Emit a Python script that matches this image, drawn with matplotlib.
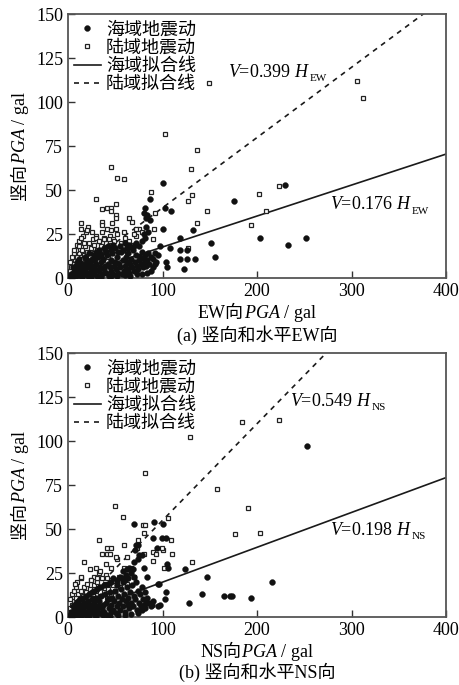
import numpy as np
import matplotlib
matplotlib.use('Agg')
import matplotlib.pyplot as plt
from matplotlib.transforms import IdentityTransform

plt.rcParams['font.family'] = ['Liberation Serif', 'Noto Sans CJK SC']
plt.rcParams['font.size'] = 13
plt.rcParams['mathtext.fontset'] = 'custom'
plt.rcParams['mathtext.rm'] = 'Liberation Serif'
plt.rcParams['mathtext.it'] = 'Liberation Serif:italic'
plt.rcParams['mathtext.bf'] = 'Liberation Serif:bold'

# ---- data: (horizontal PGA, vertical PGA) in gal ----
ew_sea = [
    (2, 1), (3, 2), (4, 1.5), (5, 3), (6, 2), (7, 4), (8, 1), (9, 3), (10, 5), (11, 2), (12, 6), (13, 3),
    (14, 1), (15, 4), (16, 7), (17, 2), (18, 5), (19, 8), (20, 3), (21, 1), (22, 6), (23, 9), (24, 4),
    (25, 2), (26, 7), (27, 10), (28, 3), (29, 5), (30, 8), (31, 1), (32, 12), (33, 4), (34, 6), (35, 9),
    (36, 2), (37, 11), (38, 5), (39, 7), (40, 3), (41, 13), (42, 8), (43, 1), (44, 6), (45, 10), (46, 4),
    (47, 14), (48, 2), (49, 7), (50, 9), (51, 5), (52, 12), (53, 3), (54, 8), (55, 6), (56, 15), (57, 2),
    (58, 10), (59, 4), (60, 7), (61, 12), (62, 9), (63, 5), (64, 14), (65, 3), (66, 8), (67, 11), (68, 6),
    (69, 16), (70, 4), (71, 9), (72, 13), (73, 7), (74, 5), (75, 10), (76, 12), (77, 8), (78, 15), (79, 6),
    (80, 11), (81, 9), (82, 13), (83, 7), (84, 10), (85, 14), (86, 8), (88, 12), (90, 11), (93, 9), (95, 13),
    (5, 6), (8, 7), (10, 9), (12, 11), (14, 8), (18, 12), (20, 10), (22, 14), (25, 11), (28, 13), (30, 15),
    (33, 16), (35, 13), (38, 17), (40, 15), (42, 18), (45, 16), (48, 19), (50, 17), (53, 15), (55, 18),
    (58, 16), (60, 20), (62, 17), (65, 19), (68, 17), (70, 18), (72, 20), (75, 18), (78, 21), (82, 23),
    (85, 26), (80, 25), (83, 29), (87, 33),
    (4, 0.5), (7, 0.5), (15, 0.8), (24, 0.7), (35, 0.6), (46, 0.9), (52, 1), (60, 1.5), (66, 1), (73, 2),
    (78, 2.5), (84, 3), (88, 4), (90, 6), (92, 8),
    (101, 54), (87, 45), (81, 40), (84, 36), (83, 34), (80, 37), (103, 40), (109, 38), (101, 28), (119, 23),
    (132, 27), (151, 20), (156, 12), (108, 17), (118, 16), (126, 16), (118, 11), (126, 11), (134, 11),
    (123, 5), (105, 6), (92, 14), (97, 18), (104, 9), (176, 44), (230, 53), (203, 23), (233, 19), (252, 23),
]
ew_land = [
    (2, 4), (3, 6), (5, 8), (6, 5), (7, 10), (8, 7), (9, 12), (11, 9), (12, 14),
    (13, 6), (14, 11), (15, 16), (16, 8), (17, 13), (18, 18), (19, 10), (20, 15), (22, 20), (23, 12),
    (24, 17), (25, 9), (26, 22), (27, 14), (28, 19), (29, 11), (30, 24), (31, 16), (33, 21), (34, 13),
    (35, 18), (36, 26), (37, 10), (38, 23), (39, 15), (40, 20), (41, 28), (42, 12), (43, 17), (44, 24),
    (46, 19), (47, 14), (48, 22), (50, 16), (52, 25), (56, 20), (58, 18), (60, 23),
    (62, 15), (65, 21), (68, 19), (72, 24), (75, 28), (78, 26),
    (3, 1), (9, 2), (21, 4), (30, 3),
    (2, 9), (4, 12), (6, 14), (8, 16), (10, 19), (12, 21), (16, 24), (19, 26), (14, 28), (21, 29),
    (46, 63), (52, 57), (59, 56), (30, 45), (14, 31), (36, 39), (41, 40), (46, 40), (51, 42), (46, 38),
    (51, 36), (36, 32), (36, 30), (47, 31), (51, 28), (46, 27), (51, 34), (65, 34), (68, 32), (72, 28),
    (70, 25), (59, 26), (20, 27), (25, 26), (30, 23), (33, 21), (38, 22), (43, 22), (49, 21), (14, 23),
    (17, 20), (12, 18), (6, 16),
    (88, 49), (92, 37), (91, 28), (90, 22), (127, 44), (131, 47), (147, 38), (136, 31), (127, 17), (130, 62),
    (136, 73), (103, 82), (149, 111), (306, 112), (312, 102), (202, 48), (223, 52), (209, 38), (194, 30),
]
ns_sea = [
    (2, 1), (3, 3), (4, 1), (5, 2), (6, 4), (7, 1.5), (8, 3), (9, 5), (10, 2), (11, 6), (12, 1), (13, 4),
    (14, 7), (15, 2), (16, 5), (17, 8), (18, 3), (19, 1), (20, 6), (21, 9), (22, 4), (23, 2), (24, 7),
    (25, 10), (26, 3), (27, 5), (28, 8), (29, 1), (30, 11), (31, 4), (32, 6), (33, 9), (34, 2), (35, 12),
    (36, 5), (37, 7), (38, 3), (39, 13), (40, 8), (41, 1), (42, 10), (43, 5), (44, 14), (45, 3), (46, 7),
    (47, 11), (48, 4), (49, 9), (50, 15), (51, 2), (52, 6), (53, 12), (54, 8), (55, 4), (56, 16), (57, 10),
    (58, 6), (59, 13), (60, 3), (61, 9), (62, 17), (63, 7), (64, 11), (65, 5), (66, 14), (67, 8), (68, 18),
    (69, 6), (70, 12), (71, 10), (72, 20), (73, 4), (74, 15), (75, 8), (76, 13), (77, 6), (78, 17), (79, 10),
    (80, 7), (81, 14), (82, 5), (84, 11), (86, 8), (88, 6), (90, 9),
    (5, 6), (8, 8), (11, 9), (13, 10), (16, 11), (19, 12), (22, 13), (25, 14), (28, 15), (31, 16), (34, 17),
    (38, 18), (42, 19), (45, 20), (48, 22), (52, 21), (55, 23), (58, 20), (61, 24), (64, 22), (67, 25),
    (70, 23), (65, 28), (62, 27), (58, 26),
    (4, 0.5), (9, 0.7), (14, 0.5), (22, 0.8), (30, 0.6), (37, 1), (44, 0.8), (53, 1.2), (60, 1), (67, 1.5), (74, 2),
    (70, 53), (100, 53), (91, 54), (90, 45), (99, 45), (104, 45), (94, 39), (74, 41), (72, 41), (71, 38),
    (74, 33), (75, 35), (78, 35), (70, 31), (69, 27), (80, 28), (106, 28), (105, 30), (96, 19), (84, 23),
    (95, 19), (57, 22), (60, 21), (52, 18), (124, 27), (147, 23), (142, 13), (128, 8), (165, 12), (171, 12),
    (104, 14), (103, 10), (89, 7), (95, 6), (97, 7), (78, 4), (83, 8), (174, 12), (194, 11), (216, 20), (253, 97),
]
ns_land = [
    (2, 5), (4, 7), (6, 9), (7, 6), (8, 11), (10, 8), (11, 13), (12, 5),
    (13, 10), (14, 15), (15, 7), (16, 12), (17, 17), (18, 9), (19, 14), (20, 19), (22, 11), (23, 16),
    (24, 21), (25, 8), (26, 13), (27, 18), (28, 23), (29, 10), (30, 15), (31, 20), (33, 25), (34, 12),
    (35, 17), (36, 22), (38, 14), (39, 19), (40, 24), (41, 11), (42, 16), (44, 21), (46, 13),
    (48, 18), (50, 15), (52, 20), (55, 17), (58, 22), (62, 19),
    (3, 1), (9, 2), (20, 3), (29, 4),
    (2, 10), (4, 13), (6, 15), (8, 17), (10, 20), (14, 22), (7, 19),
    (50, 63), (58, 57), (33, 44), (41, 39), (46, 39), (41, 36), (36, 36), (59, 41), (52, 33), (62, 34),
    (17, 31), (23, 27), (30, 28), (34, 26), (40, 30), (46, 28), (51, 34), (14, 23), (24, 21), (31, 22),
    (41, 22), (54, 23), (59, 28), (67, 28), (70, 23), (44, 36),
    (79, 52), (80, 48), (74, 44), (73, 39), (80, 36), (90, 37), (90, 32), (93, 36), (100, 38), (99, 39),
    (109, 44), (110, 36), (106, 56), (131, 31), (102, 28), (82, 52),
    (82, 82), (129, 102), (158, 73), (184, 111), (223, 112), (191, 62), (177, 47), (203, 48),
]
k_sea_ew, k_land_ew = 0.176, 0.399
k_sea_ns, k_land_ns = 0.198, 0.549
x_ticks = [0, 100, 200, 300, 400]
y_ticks = [0, 25, 50, 75, 100, 125, 150]

W, H = 460, 685
fig = plt.figure(figsize=(W / 100, H / 100), dpi=100)
ax1 = fig.add_axes([68 / W, 1 - 278 / H, 378 / W, 264 / H])
ax2 = fig.add_axes([68 / W, 1 - 617 / H, 378 / W, 264 / H])

cjk = {'family': ['Noto Sans CJK SC'], 'size': 13}
line_col = '#1a1a1a'


def panel(ax, sea, land, k_sea, k_land):
    sea = np.array(sea)
    land = np.array(land)
    hx = np.array([0, 400])
    ax.plot(sea[:, 0], sea[:, 1], 'o', ms=4.2, color='#111111', mec='#111111', mew=0.3, zorder=4,
            label='海域地震动')
    ax.plot(land[:, 0], land[:, 1], 's', ms=3.3, mfc='white', mec='#222222', mew=0.9, zorder=3,
            label='陆域地震动')
    ax.plot(hx, k_sea * hx, '-', color=line_col, lw=1.2, zorder=2, label='海域拟合线')
    ax.plot(hx, k_land * hx, color=line_col, lw=1.2, dashes=(3, 3), zorder=2, label='陆域拟合线')
    ax.set_xlim(0, 400)
    ax.set_ylim(0, 150)
    ax.set_xticks(x_ticks)
    ax.set_yticks(y_ticks)
    ax.tick_params(direction='in', length=5, width=1, colors='#333333', labelcolor='black',
                   labelsize=13, pad=3.5, top=False, right=False)
    for s in ax.spines.values():
        s.set_color('#555555')
        s.set_linewidth(1.3)
    ax.legend(loc='upper left', prop=cjk, frameon=False, handlelength=1.45, handletextpad=0.3,
              labelspacing=0.02, borderpad=0.15, borderaxespad=0.2, numpoints=1)


def fit_label(ax, x, y, k, comp):
    t = ax.text(x, y, r'$V$=%.3f $H$' % k, ha='left', va='center', fontsize=13)
    ax.annotate(comp, xy=(1, 0), xycoords=t, xytext=(-0.3, -1.5), textcoords='offset points',
                ha='left', va='bottom', fontsize=8)


panel(ax1, ew_sea, ew_land, k_sea_ew, k_land_ew)
panel(ax2, ns_sea, ns_land, k_sea_ns, k_land_ns)

fit_label(ax1, 169, 117, k_land_ew, 'EW')
fit_label(ax1, 277, 41.5, k_sea_ew, 'EW')
fit_label(ax2, 235, 122.7, k_land_ns, 'NS')
fit_label(ax2, 277, 49.4, k_sea_ns, 'NS')

serif = {'family': ['Liberation Serif'], 'size': 13}
mixed = {'family': ['Liberation Serif', 'Noto Sans CJK SC'], 'size': 13}
pid = IdentityTransform()


def hlabel(parts, cx, base_y):
    texts = [fig.text(0, 0, s, transform=pid, ha='left', va='baseline', fontdict=kw) for s, kw in parts]
    fig.canvas.draw()
    r = fig.canvas.get_renderer()
    ws = [t.get_window_extent(r).width for t in texts]
    x = cx - sum(ws) / 2
    for t, w in zip(texts, ws):
        t.set_position((x, H - base_y))
        x += w


def vlabel(parts, base_x, cy):
    texts = [fig.text(0, 0, s, transform=pid, ha='left', va='baseline', rotation=90,
                      rotation_mode='anchor', fontdict=kw) for s, kw in parts]
    fig.canvas.draw()
    r = fig.canvas.get_renderer()
    hs = [t.get_window_extent(r).height for t in texts]
    y = (H - cy) - sum(hs) / 2
    for t, h in zip(texts, hs):
        t.set_position((base_x, y))
        y += h


cx = (68 + 446) / 2
vlabel([('竖向', cjk), (r'$PGA$ / gal', serif)], 25, 146)
vlabel([('竖向', cjk), (r'$PGA$ / gal', serif)], 25, 485)
hlabel([('EW向', mixed), (r'$PGA$ / gal', serif)], cx, 318)
hlabel([('(a) 竖向和水平EW向', mixed)], cx, 341)
hlabel([('NS向', mixed), (r'$PGA$ / gal', serif)], cx, 657)
hlabel([('(b) 竖向和水平NS向', mixed)], cx, 678)

fig.savefig('out.png', dpi=100)
